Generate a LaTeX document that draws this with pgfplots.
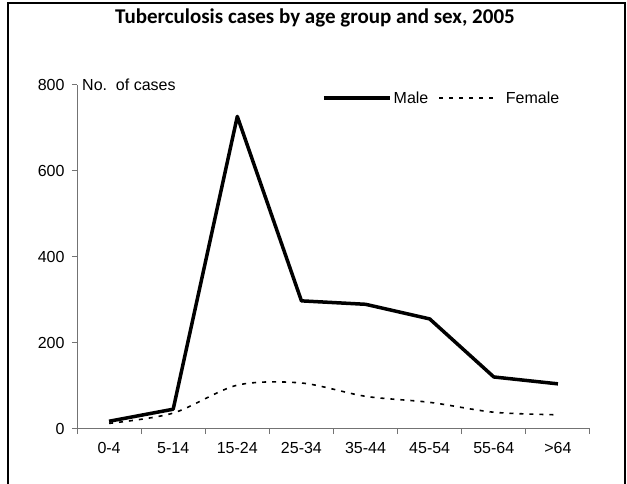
\documentclass[border=0pt]{standalone}
\usepackage{fontspec}
\setmainfont{Liberation Sans}
\newfontfamily\titlefont{Carlito}
\usepackage{pgfplots}
\pgfplotsset{compat=1.18}
\begin{document}
\begin{tikzpicture}
\begin{axis}[
  at={(0,0)}, anchor=south west,
  scale only axis, width=513bp, height=344bp,
  xmin=-0.5, xmax=7.5, ymin=0, ymax=800,
  axis x line=bottom, axis y line=left,
  axis line style={-, black!55, line width=1bp},
  xtick={0,...,7},
  xticklabels={0-4,5-14,15-24,25-34,35-44,45-54,55-64,>64},
  minor xtick={-0.5,0.5,...,7.5},
  ytick={0,200,400,600,800},
  tick align=outside,
  major tick length=5bp, minor tick length=5bp,
  major x tick style={draw=none},
  minor x tick style={black!55, line width=1bp},
  ytick style={black!55, line width=1bp},
  /pgf/number format/assume math mode=true,
  ticklabel style={font=\fontsize{16bp}{19bp}\selectfont, text=black},
  yticklabel style={xshift=-4bp},
  xticklabel style={yshift=-5bp},
  legend style={draw=none, fill=none, at={(axis description cs:0.4776,0.9622)}, anchor=west,
    font=\fontsize{16bp}{19bp}\selectfont, inner sep=0pt, legend columns=2,
    /tikz/every even column/.append style={column sep=8bp}},
  legend cell align=left,
  clip=false,
]
\addplot[black, line width=3.5bp, line join=round,
  legend image code/.code={\draw[black, line width=3.5bp] (0bp,0bp) -- (66bp,0bp);}]
  coordinates {(0,18) (1,46) (2,727) (3,298) (4,290) (5,256) (6,121) (7,105)};
\addlegendentry{Male}
\addplot[black, line width=1.6bp, dash pattern=on 4bp off 6bp, smooth, tension=0.5,
  legend image code/.code={\draw[black, line width=1.6bp, dash pattern=on 4bp off 6bp] (0bp,0bp) -- (56bp,0bp);}]
  coordinates {(0,13) (1,37) (2,102) (3,107) (4,76) (5,62) (6,39) (7,33)};
\addlegendentry{\hspace{8bp}Female}
\node[anchor=west, inner sep=0pt, font=\fontsize{16bp}{19bp}\selectfont] at (rel axis cs:0,1) [xshift=5bp] {No.\ \ of cases};
\end{axis}
\node[anchor=base, inner sep=0pt, font=\titlefont\bfseries\fontsize{21bp}{25bp}\selectfont] at (238bp,405.5bp) {Tuberculosis cases by age group and sex, 2005};
\draw[line width=2bp] (-69bp,-70bp) -- (-69bp,426bp) -- (548bp,426bp) -- (548bp,-70bp);
\pgfresetboundingbox
\useasboundingbox (-77bp,-55bp) rectangle (550bp,429bp);
\end{tikzpicture}
\end{document}
